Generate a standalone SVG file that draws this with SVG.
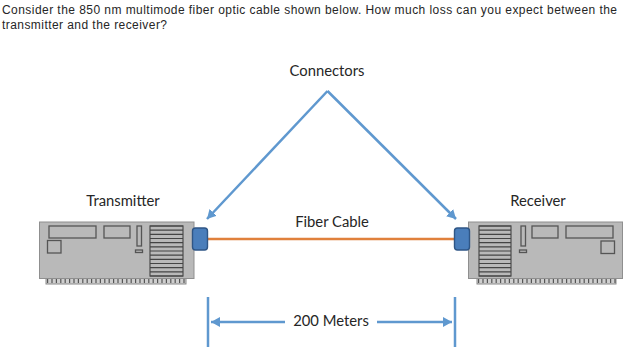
<svg xmlns="http://www.w3.org/2000/svg" width="640" height="357" viewBox="0 0 640 357">
  <style>
    .q { font: 12px "Liberation Sans", Arial, sans-serif; fill: #262626; }
    .lbl { font: 14.8px Lato, "Liberation Sans", sans-serif; fill: #262626; text-anchor: middle; }
    .body { fill: #b9b9b9; stroke: #8f8f8f; stroke-width: 1; }
    .part { fill: #b9b9b9; stroke: #555; stroke-width: 1.3; }
    .vent { fill: none; stroke: #444; stroke-width: 1.2; }
    .feet { fill: #cfcfcf; stroke: #8a8a8a; stroke-width: 1; }
    .teeth { fill: none; stroke: #555; stroke-width: 4; stroke-dasharray: 1.2 3.2; }
    .plug { fill: #4a7ebb; stroke: #2f5686; stroke-width: 1.4; }
    .blue { fill: none; stroke: #5f98cf; stroke-width: 2.5; }
    .head { fill: #5f98cf; }
  </style>
  <defs>
    <marker id="arrow" markerUnits="userSpaceOnUse" markerWidth="11" markerHeight="11" refX="9" refY="5.5" orient="auto">
      <path class="head" d="M0 0.5L9 5.500L0 10.500z"/>
    </marker>
    <path id="ventlines" d="M0 0H33M0 4.2H33M0 8.3H33M0 12.5H33M0 16.7H33M0 20.8H33M0 25H33M0 29.2H33M0 33.3H33M0 37.5H33M0 41.7H33M0 45.8H33M0 50H33"/>
  </defs>
  <rect width="640" height="357" fill="#fff"/>

  <text class="q" x="2" y="14" textLength="615" lengthAdjust="spacing">Consider the 850 nm multimode fiber optic cable shown below. How much loss can you expect between the</text>
  <text class="q" x="2" y="29" textLength="165" lengthAdjust="spacing">transmitter and the receiver?</text>

  <g id="connectors">
    <path d="M208 239H455" fill="none" stroke="#e0803c" stroke-width="2.500"/>
    <path class="blue" marker-end="url(#arrow)" d="M327.500 91L207 219"/>
    <path class="blue" marker-end="url(#arrow)" d="M327.500 91L456 219"/>
    <path class="blue" d="M208 297V347M455 297V347"/>
    <path class="blue" marker-end="url(#arrow)" d="M285 322H211"/>
    <path class="blue" marker-end="url(#arrow)" d="M377 322H452"/>
  </g>

  <g id="transmitter">
    <rect class="feet" x="46" y="278" width="140" height="6"/>
    <path class="teeth" d="M47 281H186"/>
    <rect class="body" x="39.5" y="222" width="154.500" height="56.500"/>
    <rect class="part" x="49" y="226" width="47" height="12"/>
    <rect class="part" x="104" y="226" width="26" height="12"/>
    <rect class="part" x="47.500" y="240.500" width="13.500" height="12.500"/>
    <rect class="part" x="137" y="226" width="4.500" height="20"/>
    <rect class="part" x="135.500" y="250" width="7" height="2.500"/>
    <rect class="part" x="150" y="226" width="33" height="50"/>
    <use class="vent" href="#ventlines" x="150" y="226"/>
    <rect class="plug" x="192.500" y="228" width="15" height="22" rx="3"/>
    <text class="lbl" x="123" y="206">Transmitter</text>
  </g>

  <g id="receiver">
    <rect class="feet" x="477" y="278" width="139" height="6"/>
    <path class="teeth" d="M478 281H616"/>
    <rect class="body" x="468.500" y="222" width="154" height="56.500"/>
    <rect class="part" x="566" y="226" width="47" height="12"/>
    <rect class="part" x="532" y="226" width="26" height="12"/>
    <rect class="part" x="601" y="241" width="13.500" height="12.500"/>
    <rect class="part" x="521" y="226" width="4.500" height="20"/>
    <rect class="part" x="519.500" y="250" width="7" height="2.500"/>
    <rect class="part" x="479" y="226" width="32" height="50"/>
    <use class="vent" href="#ventlines" x="479" y="226" transform="translate(479 0) scale(0.97 1) translate(-479 0)"/>
    <rect class="plug" x="454.500" y="228" width="15" height="22" rx="3"/>
    <text class="lbl" x="538" y="206">Receiver</text>
  </g>

  <g id="labels">
    <text class="lbl" x="327" y="76">Connectors</text>
    <text class="lbl" x="332" y="227">Fiber Cable</text>
    <text class="lbl" x="331" y="326">200 Meters</text>
  </g>
</svg>
